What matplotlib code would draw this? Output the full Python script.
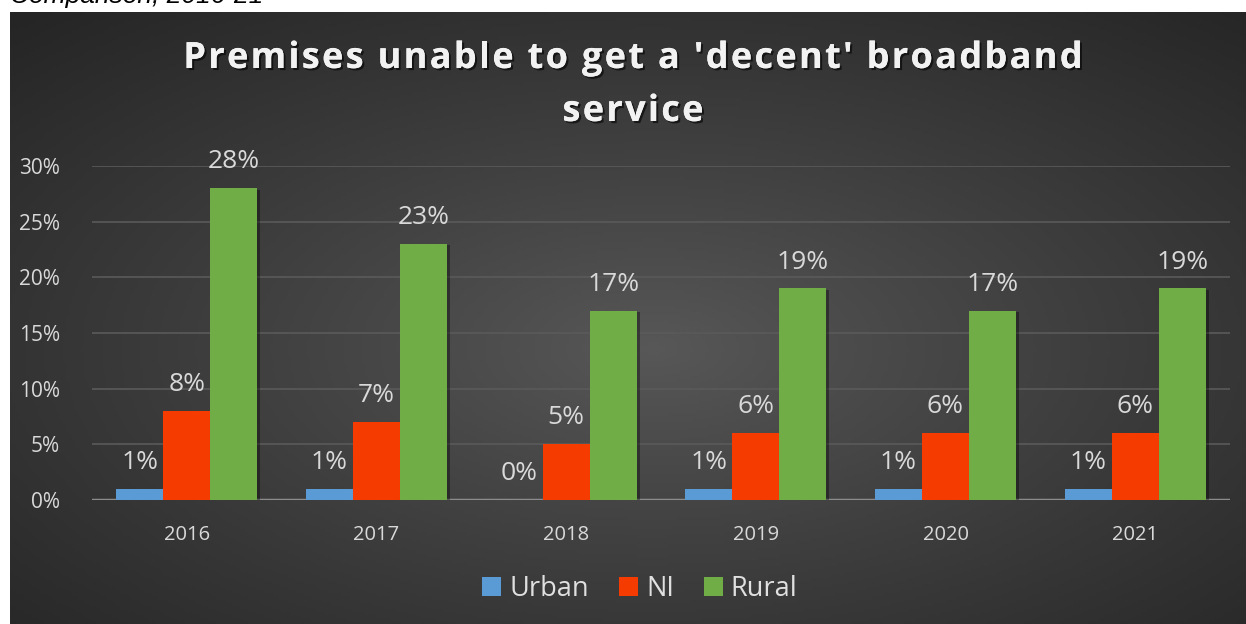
import numpy as np
import matplotlib
matplotlib.use("Agg")
import matplotlib.pyplot as plt
import matplotlib.patheffects as pe
from matplotlib.patches import Patch
from matplotlib.font_manager import FontProperties, findfont, get_font
from matplotlib.ft2font import LoadFlags

years = ["2016", "2017", "2018", "2019", "2020", "2021"]
urban = [0.01, 0.01, 0.00, 0.01, 0.01, 0.01]
ni = [0.08, 0.07, 0.05, 0.06, 0.06, 0.06]
rural = [0.28, 0.23, 0.17, 0.19, 0.17, 0.19]
series_names = ["Urban", "NI", "Rural"]
yticks = [0, 0.05, 0.10, 0.15, 0.20, 0.25, 0.30]
title_lines = ["Premises unable to get a 'decent' broadband", "service"]
caption = "Comparison, 2016-21"

colors = ["#5b9bd5", "#f53b00", "#70ad47"]
txt_col = "#d9d9d9"

W, H, DPI = 1246, 624, 100
fig = plt.figure(figsize=(W / DPI, H / DPI), dpi=DPI, facecolor="white")

# background radial gradient panel
bx0, by_top = 10, 12
bg = fig.add_axes([bx0 / W, 0, (W - bx0) / W, (H - by_top) / H])
bg.set_axis_off()
nx, ny = 400, 200
xx, yy = np.meshgrid(np.linspace(0, 1, nx), np.linspace(0, 1, ny))
cx, cy = 0.52, 0.45
r = np.sqrt(((xx - cx) / 0.75) ** 2 + ((yy - cy) / 0.75) ** 2)
r = np.clip(r, 0, 1)
inner, outer = 0x58 / 255, 0x25 / 255
val = inner + (outer - inner) * r ** 0.9
img = np.dstack([val, val, val])
bg.imshow(img, aspect="auto", extent=[0, 1, 0, 1], origin="lower")
bg.set_xlim(0, 1)
bg.set_ylim(0, 1)

# caption (cut off at top, as in the source)
fig.text(10 / W, 1 - 3.5 / H, caption, fontsize=19, style="italic",
         family="Liberation Sans", color="black", ha="left", va="baseline")

# main axes
x_left, x_right, y0_px, ytop_px = 92, 1230, 500, 166
ax = fig.add_axes([x_left / W, (H - y0_px) / H, (x_right - x_left) / W,
                   (y0_px - ytop_px) / H])
ax.patch.set_alpha(0)
ax.set_ylim(0, 0.30)
ax.set_xlim(-0.5, len(years) - 0.5)
ax.set_yticks(yticks)
ax.set_yticklabels([f"{int(round(t * 100))}%" for t in yticks])
ax.grid(axis="y", color="#5a5a5a", linewidth=1.2)
ax.set_axisbelow(True)
for s in ax.spines.values():
    s.set_visible(False)
ax.axhline(0, color="#8c8c8c", linewidth=2.5, zorder=1)
ax.tick_params(axis="both", length=0, colors=txt_col)
ax.tick_params(axis="y", labelsize=15, pad=23)
ax.tick_params(axis="x", labelsize=14.5, pad=18)
ax.set_xticks(range(len(years)))
ax.set_xticklabels(years)
for lab in ax.get_xticklabels() + ax.get_yticklabels():
    lab.set_family("Open Sans")

bw = 0.248
x = np.arange(len(years))
shadow = [pe.SimplePatchShadow(offset=(2, -1), shadow_rgbFace="black", alpha=0.35), pe.Normal()]
for i, (vals, c) in enumerate(zip([urban, ni, rural], colors)):
    pos = x + (i - 1) * bw
    bars = ax.bar(pos, vals, width=bw, color=c, zorder=3, linewidth=0)
    for b in bars:
        b.set_path_effects(shadow)
    for p, v in zip(pos, vals):
        ax.annotate(f"{int(round(v * 100))}%", (p, v), xytext=(0, 10),
                    textcoords="offset points", ha="center", va="bottom",
                    fontsize=19, color=txt_col, family="Open Sans", zorder=5)

# legend
handles = [Patch(facecolor=c, edgecolor="none") for c in colors]
leg = fig.legend(handles, series_names, loc="center", bbox_to_anchor=(640 / W, (H - 589) / H),
                 ncol=3, frameon=False, handlelength=0.7, handleheight=0.7,
                 handletextpad=0.3, columnspacing=1.1,
                 prop={"family": "Open Sans", "size": 19.5})
for t in leg.get_texts():
    t.set_color("#e0e0e0")

# title with letter spacing
tprop = FontProperties(family="Open Sans", weight="bold", size=26)
font = get_font(findfont(tprop))
font.set_size(26, DPI)
spacing = 2.3
title_eff = [pe.withSimplePatchShadow(offset=(1.5, -1.5), shadow_rgbFace="black", alpha=0.6), pe.Normal()]


def draw_spaced(line, cx_px, baseline_px):
    advs = []
    for ch in line:
        g = font.load_char(ord(ch), flags=LoadFlags.NO_HINTING)
        advs.append(g.linearHoriAdvance / 65536)
    total = sum(advs) + spacing * (len(line) - 1)
    xp = cx_px - total / 2
    for ch, a in zip(line, advs):
        if ch != " ":
            fig.text(xp / W, 1 - baseline_px / H, ch, fontproperties=tprop,
                     color="#f2f2f2", ha="left", va="baseline", path_effects=title_eff)
        xp += a + spacing


draw_spaced(title_lines[0], 633, 68)
draw_spaced(title_lines[1], 633, 121)

fig.savefig("out.png", dpi=DPI, facecolor="white")
